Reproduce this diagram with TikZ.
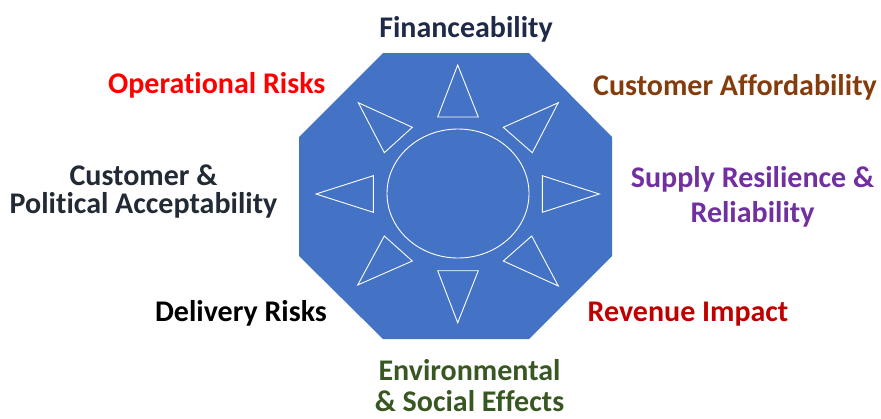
\documentclass[tikz,border=0pt]{standalone}
\usepackage{fontspec}
\setmainfont{Carlito}[Ligatures=NoCommon]
\definecolor{octblue}{HTML}{4472C4}
\definecolor{navy}{HTML}{1F2A48}
\definecolor{slate}{HTML}{222A35}
\definecolor{brown}{HTML}{843C0C}
\definecolor{purple}{HTML}{7030A0}
\definecolor{darkred}{HTML}{C00000}
\definecolor{leaf}{HTML}{385723}
\begin{document}
\begin{tikzpicture}[x=1pt,y=-1pt,
  lbl/.style={font=\bfseries\fontsize{30}{34}\selectfont, inner sep=0pt, anchor=base, align=center},
  ray/.style={draw=white, line width=0.9pt, line join=miter},
]
\useasboundingbox (0,0) rectangle (881,418);

% octagonal sun badge
\fill[octblue] (383,53) -- (529,53) -- (612,137) -- (612,256) -- (529,339)
  -- (383,339) -- (299,256) -- (299,137) -- cycle;
\draw[ray] (458,193.5) ellipse [x radius=71, y radius=64.5];

% eight sun rays
\draw[ray] (457.7,65) -- (478.3,117) -- (437.7,117) -- cycle;
\draw[ray] (558.3,102.7) -- (532.3,152.7) -- (503.3,127.3) -- cycle;
\draw[ray] (599.3,194) -- (542.3,212.3) -- (542.3,175.7) -- cycle;
\draw[ray] (558.3,286) -- (503.3,261) -- (531.7,236) -- cycle;
\draw[ray] (457.7,322.7) -- (437.7,270.7) -- (478.3,270.7) -- cycle;
\draw[ray] (357.7,285) -- (384.3,236) -- (412.3,261) -- cycle;
\draw[ray] (316,194) -- (373.3,175.7) -- (373.3,212.3) -- cycle;
\draw[ray] (358.3,102.7) -- (412.3,127.3) -- (384.3,152.7) -- cycle;

% criteria around the badge (base = baseline of the last line)
\node[lbl, text=navy] (fin) at (466,37.7) {Financeability};
\node[lbl, text=red] (ops) at (216.7,93.3) {Operational Risks};
\node[lbl, text=brown] (afford) at (735,95) {Customer Affordability};
\node[lbl, text=slate, font=\bfseries\fontsize{30}{28.3}\selectfont] (accept) at (143.5,213.3) {Customer \&\\Political Acceptability};
\node[lbl, text=purple, font=\bfseries\fontsize{30}{35}\selectfont] (supply) at (752.5,222.5) {Supply Resilience \&\\Reliability};
\node[lbl, text=black] (deliv) at (241,321.7) {Delivery Risks};
\node[lbl, text=darkred] (rev) at (688,321.7) {Revenue Impact};
\node[lbl, text=leaf, font=\bfseries\fontsize{30}{31}\selectfont] (env) at (469.5,411) {Environmental\\\& Social Effects};
\end{tikzpicture}
\end{document}
